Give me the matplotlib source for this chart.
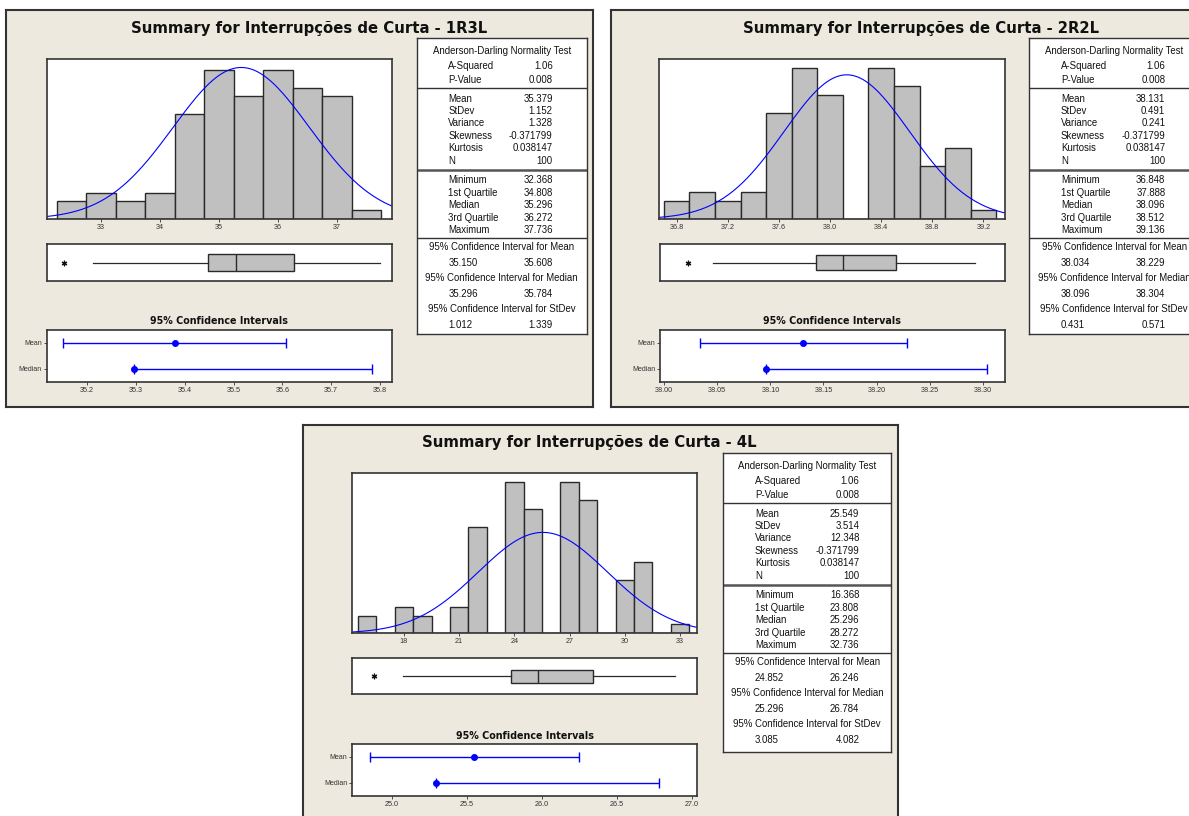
import numpy as np
import matplotlib.pyplot as plt

# histogram bins (centres) and counts
bins_1 = [32.5, 33.0, 33.5, 34.0, 34.5, 35.0, 35.5, 36.0, 36.5, 37.0, 37.5]
counts_1 = [2, 3, 2, 3, 12, 17, 14, 17, 15, 14, 1]
bins_2 = [36.8, 37.0, 37.2, 37.4, 37.6, 37.8, 38.0, 38.2, 38.4, 38.6, 38.8, 39.0, 39.2]
counts_2 = [2, 3, 2, 3, 12, 17, 14, 0, 17, 15, 6, 8, 1]
bins_3 = [16, 17, 18, 19, 20, 21, 22, 23, 24, 25, 26, 27, 28, 29, 30, 31, 32, 33]
counts_3 = [2, 0, 3, 2, 0, 3, 12, 0, 17, 14, 0, 17, 15, 0, 6, 8, 0, 1]

# summary tables
stat_labels = ['A-Squared', 'P-Value', 'Mean', 'StDev', 'Variance', 'Skewness', 'Kurtosis', 'N',
               'Minimum', '1st Quartile', 'Median', '3rd Quartile', 'Maximum']
stats_1 = ['1.06', '0.008', '35.379', '1.152', '1.328', '-0.371799', '0.038147', '100',
           '32.368', '34.808', '35.296', '36.272', '37.736']
stats_2 = ['1.06', '0.008', '38.131', '0.491', '0.241', '-0.371799', '0.038147', '100',
           '36.848', '37.888', '38.096', '38.512', '39.136']
stats_3 = ['1.06', '0.008', '25.549', '3.514', '12.348', '-0.371799', '0.038147', '100',
           '16.368', '23.808', '25.296', '28.272', '32.736']
ci_1 = [('35.150', '35.608'), ('35.296', '35.784'), ('1.012', '1.339')]
ci_2 = [('38.034', '38.229'), ('38.096', '38.304'), ('0.431', '0.571')]
ci_3 = [('24.852', '26.246'), ('25.296', '26.784'), ('3.085', '4.082')]

# boxplot: outlier, low whisker, q1, median, q3, high whisker
box_1 = [32.368, 32.86, 34.808, 35.296, 36.272, 37.736]
box_2 = [36.88, 37.08, 37.888, 38.096, 38.512, 39.136]
box_3 = [16.368, 17.93, 23.808, 25.296, 28.272, 32.736]

W, H = 1189, 816
BG = '#EDE9DF'
DARK = '#333333'
BLUE = '#0000FF'
fig = plt.figure(figsize=(W / 100, H / 100), dpi=100)
fig.patch.set_facecolor('white')


def px_axes(l, t, w, h, **kw):
    return fig.add_axes([l / W, 1 - (t + h) / H, w / W, h / H], **kw)


def frame(ax, lw=1.2):
    for s in ax.spines.values():
        s.set_color(DARK)
        s.set_linewidth(lw)


def small_ticks(ax):
    ax.tick_params(axis='x', length=2, width=0.6, pad=1.5, labelsize=5.2, colors=DARK)
    for lab in ax.get_xticklabels():
        lab.set_fontfamily('Liberation Sans')


def panel(p, name, bins, counts, bw, stats, ci, box, hx, hxt, hfmt, cix, cixt, cifmt, ymax):
    # background frame
    bg = px_axes(*p['frame'])
    bg.set_facecolor(BG)
    bg.set_xticks([])
    bg.set_yticks([])
    frame(bg, 1.5)
    fig.text(p['title'][0] / W, 1 - p['title'][1] / H, 'Summary for Interrupções de Curta - ' + name,
             ha='center', va='center', fontsize=10.7, fontweight='bold', color='#111111')

    # histogram with normal curve
    ax = px_axes(*p['hist'])
    ax.bar(bins, counts, width=bw, color='#C0C0C0', edgecolor='#2a2a2a', linewidth=1.0)
    m, sd = float(stats[2]), float(stats[3])
    xs = np.linspace(hx[0], hx[1], 300)
    ax.plot(xs, 100 * bw * np.exp(-0.5 * ((xs - m) / sd) ** 2) / (sd * np.sqrt(2 * np.pi)),
            color=BLUE, lw=0.8)
    ax.set_xlim(hx)
    ax.set_ylim(0, ymax)
    ax.set_yticks([])
    ax.set_xticks(hxt)
    ax.set_xticklabels([hfmt % v for v in hxt])
    small_ticks(ax)
    frame(ax)

    # boxplot
    bx = px_axes(*p['box'])
    out, wlo, q1, med, q3, whi = box
    bx.bxp([{'med': med, 'q1': q1, 'q3': q3, 'whislo': wlo, 'whishi': whi, 'fliers': [out]}],
           positions=[0.5], widths=p['bw'], orientation='horizontal', patch_artist=True,
           showcaps=False,
           boxprops=dict(facecolor='#C0C0C0', edgecolor='#2a2a2a', linewidth=1.0),
           medianprops=dict(color='#2a2a2a', linewidth=1.0),
           whiskerprops=dict(color='#2a2a2a', linewidth=0.9),
           flierprops=dict(marker=(6, 2, 0), markersize=4, markeredgecolor='#111111',
                           markeredgewidth=0.9))
    bx.set_xlim(hx)
    bx.set_ylim(0, 1)
    bx.set_xticks([])
    bx.set_yticks([])
    frame(bx)

    # confidence intervals
    fig.text(p['cititle'][0] / W, 1 - p['cititle'][1] / H, '95% Confidence Intervals',
             ha='center', va='center', fontsize=6.9, fontweight='bold', color='#111111')
    cax = px_axes(*p['ci'])
    rows = [(2, float(stats[2]), ci[0]), (1, float(stats[10]), ci[1])]
    for y, c, (lo, hi) in rows:
        cax.errorbar([c], [y], xerr=[[c - float(lo)], [float(hi) - c]], fmt='o', color=BLUE,
                     ms=4, elinewidth=1.0, capsize=3.5, capthick=1.0)
    cax.set_xlim(cix)
    cax.set_ylim(0.5, 2.5)
    cax.set_yticks([2, 1])
    cax.set_yticklabels(['Mean', 'Median'])
    cax.set_xticks(cixt)
    cax.set_xticklabels([cifmt % v for v in cixt])
    small_ticks(cax)
    cax.tick_params(axis='y', length=2, width=0.6, pad=1.5, labelsize=5, colors=DARK)
    for lab in cax.get_yticklabels():
        lab.set_fontfamily('Liberation Sans')
    frame(cax)

    # summary table (pixel units inside)
    tl, tt, tw, th = p['table']
    tb = px_axes(tl, tt, tw, th)
    tb.set_xlim(0, tw)
    tb.set_ylim(th, 0)
    tb.set_xticks([])
    tb.set_yticks([])
    frame(tb, 1.0)
    kw = dict(fontsize=6.9, family='Liberation Sans', color='#111111', va='center')
    tb.text(tw / 2, 12.5, 'Anderson-Darling Normality Test', ha='center', **kw)
    row_y = [28, 42, 60.5, 72.5, 85, 97.5, 110, 122.5, 142, 154.5, 167, 179.5, 192]
    for y, lab, val in zip(row_y, stat_labels, stats):
        tb.text(31.5, y, lab, ha='left', **kw)
        tb.text(136, y, val, ha='right', **kw)
    tb.axhline(50, color=DARK, lw=1.0)
    tb.axhline(131.5, color='#555555', lw=1.8)
    tb.axhline(199.5, color=DARK, lw=1.0)
    heads = ['95% Confidence Interval for Mean', '95% Confidence Interval for Median',
             '95% Confidence Interval for StDev']
    for (hy, vy), head, (lo, hi) in zip([(208.5, 224.5), (240, 256), (271, 287)], heads, ci):
        tb.text(tw / 2, hy, head, ha='center', **kw)
        tb.text(31.5, vy, lo, ha='left', **kw)
        tb.text(136, vy, hi, ha='right', **kw)


p1 = dict(frame=(6, 10, 586.7, 397), title=(309, 29), hist=(46.7, 59.3, 345, 159.7),
          box=(46.7, 244.3, 345, 36.4), bw=0.44, cititle=(219, 321), ci=(46.7, 330, 345, 51.7),
          table=(416.7, 38.3, 170, 295.7))
p2 = dict(frame=(611, 10, 600, 397), title=(921, 29), hist=(659.3, 59.3, 345.7, 159.7),
          box=(660, 244.3, 345, 36.4), bw=0.40, cititle=(832, 321), ci=(660, 330, 345, 51.7),
          table=(1029.3, 38.3, 170, 295.7))
p3 = dict(frame=(303.3, 425, 594.4, 410), title=(589.5, 442.5), hist=(352.3, 473.3, 344.4, 160),
          box=(352.3, 658.3, 344.4, 35.7), bw=0.36, cititle=(525, 736), ci=(352.3, 744, 344.4, 51.7),
          table=(723.3, 453.3, 168, 298.4))

panel(p1, '1R3L', bins_1, counts_1, 0.5, stats_1, ci_1, box_1,
      (32.08, 37.93), [33, 34, 35, 36, 37], '%d',
      (35.117, 35.824), [35.2, 35.3, 35.4, 35.5, 35.6, 35.7, 35.8], '%.1f', 18.25)
panel(p2, '2R2L', bins_2, counts_2, 0.2, stats_2, ci_2, box_2,
      (36.664, 39.369), [36.8, 37.2, 37.6, 38.0, 38.4, 38.8, 39.2], '%.1f',
      (37.996, 38.321), [38.00, 38.05, 38.10, 38.15, 38.20, 38.25, 38.30], '%.2f', 18.0)
panel(p3, '4L', bins_3, counts_3, 1.0, stats_3, ci_3, box_3,
      (15.19, 33.91), [18, 21, 24, 27, 30, 33], '%d',
      (24.737, 27.033), [25.0, 25.5, 26.0, 26.5, 27.0], '%.1f', 18.0)

plt.savefig('out.png', dpi=100, facecolor='white')
